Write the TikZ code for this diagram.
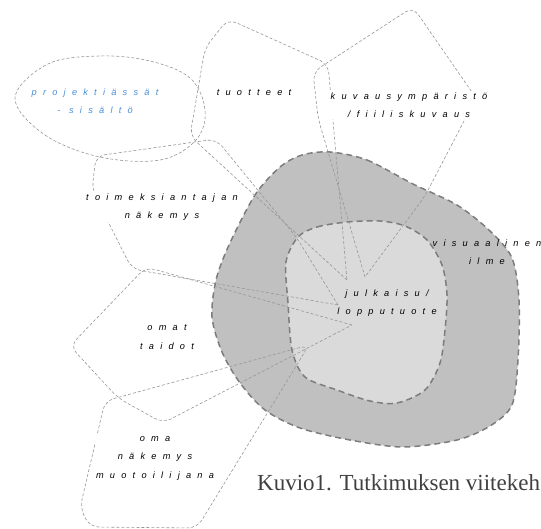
\documentclass[tikz,border=0pt]{standalone}
\usepackage{fontspec}
\newfontfamily\lblfont[LetterSpace=68]{Liberation Sans}
\newfontfamily\capfont{Liberation Serif}
\usetikzlibrary{positioning}
\definecolor{projblue}{RGB}{74,144,217}
\definecolor{outergray}{RGB}{192,192,192}
\definecolor{innergray}{RGB}{218,218,218}
\definecolor{linegray}{RGB}{150,150,150}
\definecolor{bordergray}{RGB}{125,125,125}

\begin{document}
\begin{tikzpicture}[x=1pt,y=-1pt,
    sketch/.style={linegray, line width=0.6pt, dash pattern=on 3pt off 2pt, rounded corners=9pt},
    ring/.style={bordergray, line width=1.5pt, dash pattern=on 6pt off 4pt},
    lbl/.style={font=\lblfont\itshape\fontsize{9.2}{18.5}\selectfont, align=center, inner sep=1pt},
    onwhite/.style={lbl, fill=white}]
    \useasboundingbox (0,0) rectangle (541,529);
    \clip (0,0) rectangle (541,529);
    % visuaalinen ilme (outer ring)
    \draw[ring, fill=outergray] plot[smooth cycle] coordinates {(330,152) (367,160) (413,184) (457,205) (490,231) (512,258) (519,300) (518,360) (512,405) (490,426) (457,440) (403,447) (350,440) (300,428) (265,410) (240,383) (222,352) (212,317) (216,280) (229,245) (255,195) (280,167) (302,155)};
    % julkaisu (inner area)
    \draw[ring, fill=innergray] plot[smooth cycle] coordinates {(298,237) (317,227) (347,222) (380,221) (405,226) (427,240) (442,265) (447,295) (445,330) (440,363) (425,390) (397,403) (370,401) (337,390) (305,377) (292,350) (288,303) (286,262)};
    % projektiassat blob
    \draw[sketch, sharp corners] plot[smooth cycle, tension=0.6] coordinates {(15,98) (45,135) (100,157) (160,160) (196,140) (205,110) (190,78) (150,61) (100,56) (48,64)};
    % tuotteet
    \draw[sketch] (347,280) -- (190,136) -- (205,48) -- (228,19) -- (328,64) -- (347,280);
    % kuvausymparisto
    \draw[sketch] (365,277) -- (318,118) -- (313,72) -- (413,7) -- (476,98) -- (425,196) -- (365,277);
    % toimeksiantajan nakemys
    \draw[sketch] (338,305) -- (297,238) -- (216,139) -- (96,156) -- (92,190) -- (132,269) -- (338,305);
    % omat taidot
    \draw[sketch] (352,325) -- (146,267) -- (70,346) -- (118,398) -- (163,423) -- (352,325);
    % oma nakemys
    \draw[sketch] (105,401) -- (309,345) -- (197,528) -- (90,527) -- (80,508) -- cycle;
    % labels
    \node[onwhite, text=projblue] (projekti) at (95,101) {projektiässät\\- sisältö};
    \node[onwhite] (tuotteet) at (254,93) {tuotteet};
    \node[onwhite] (kuvaus) at (409,105) {kuvausympäristö\\/fiiliskuvaus};
    \node[onwhite] (toimeksianto) at (162,207) {toimeksiantajan\\näkemys};
    \node[lbl] (visuaalinen) at (487,252) {visuaalinen\\ilme};
    \node[lbl] (julkaisu) at (387,303) {julkaisu/\\lopputuote};
    \node[onwhite] (taidot) at (167,337) {omat\\taidot};
    \node[onwhite] (omanakemys) at (155,458) {oma\\näkemys\\muotoilijana};
    % caption
    \node[anchor=base west, inner sep=0pt, text=black!75, font=\capfont\fontsize{23}{26}\selectfont] (kuvio) at (257,490) {Kuvio1. Tutkimuksen viitekeh};
\end{tikzpicture}
\end{document}
